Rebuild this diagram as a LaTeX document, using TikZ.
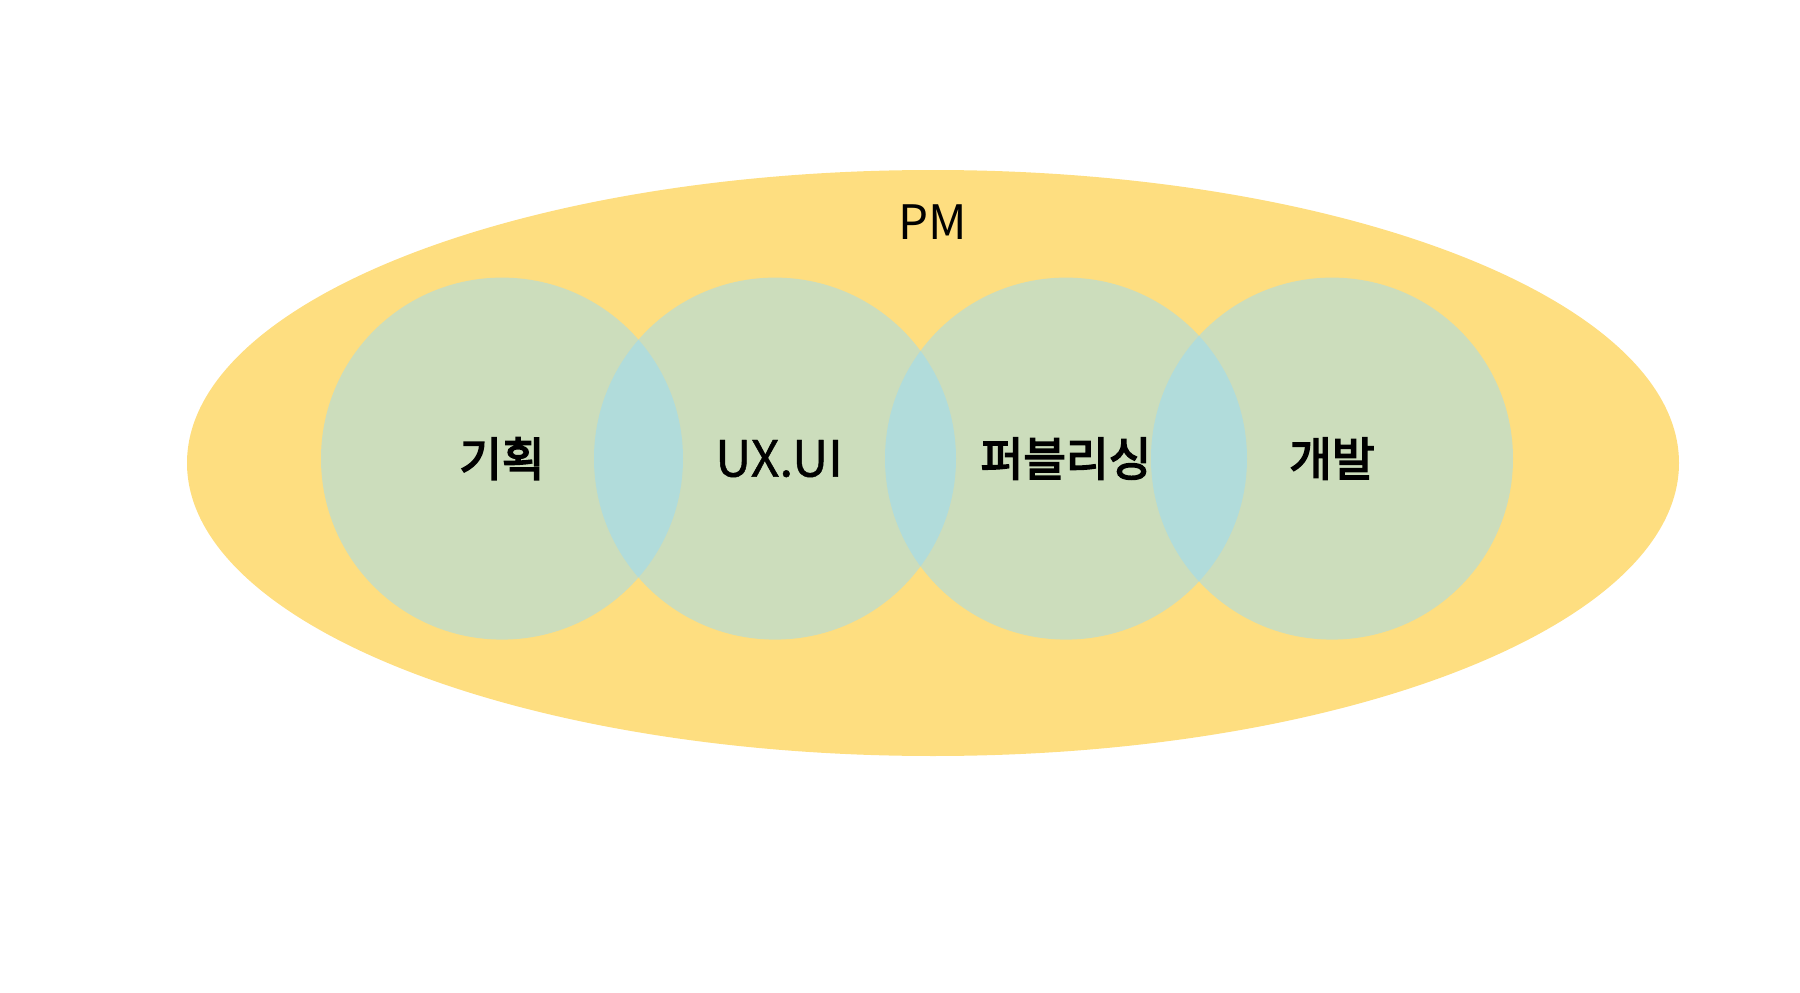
\documentclass[tikz,border=0pt]{standalone}
\usepackage{fontspec}
\setmainfont{Noto Sans CJK KR}
\newfontfamily\krsemi{Noto Sans CJK KR}[FakeBold=3.5]
\newfontfamily\latinsemi{Noto Sans CJK KR}[FakeBold=0.9]
\usetikzlibrary{shapes.geometric}
\definecolor{pmyellow}{HTML}{FEDE80}
\definecolor{rolegreen}{HTML}{CCDDBC}
\definecolor{overlapblue}{HTML}{B1DCDB}
\newcommand{\rrad}{1.81}

\begin{document}
\begin{tikzpicture}[
  pmarea/.style={ellipse,fill=pmyellow,minimum width=14.92cm,minimum height=5.86cm,inner sep=0pt},
  role/.style={circle,fill=rolegreen,minimum size=3.62cm,inner sep=0pt},
  rolelbl/.style={font=\krsemi\fontsize{13.2}{16}\selectfont},
  latinlbl/.style={font=\fontsize{13.5}{16}\selectfont}
]
\useasboundingbox (0,0) rectangle (18,9.92);

% outer PM area
\node[pmarea] (pm) at (9.33,5.29) {};
\node[latinlbl] (pmlbl) at (9.33,7.70) {PM};

% the four role circles, left to right
\node[role] (plan) at (5.02,5.334) {};
\node[role] (ux)   at (7.75,5.334) {};
\node[role] (pub)  at (10.66,5.334) {};
\node[role] (dev)  at (13.32,5.334) {};

% overlaps between neighbours
\begin{scope}
  \clip (plan) circle[radius=\rrad];
  \fill[overlapblue] (ux) circle[radius=\rrad];
\end{scope}
\begin{scope}
  \clip (ux) circle[radius=\rrad];
  \fill[overlapblue] (pub) circle[radius=\rrad];
\end{scope}
\begin{scope}
  \clip (pub) circle[radius=\rrad];
  \fill[overlapblue] (dev) circle[radius=\rrad];
\end{scope}

% labels
\node[rolelbl]  (planlbl) at (plan) {기획};
\node[font=\latinsemi\fontsize{14.2}{16}\selectfont] (uxlbl) at ([xshift=0.04cm]ux) {UX.UI};
\node[rolelbl]  (publbl)  at (pub) {퍼블리싱};
\node[rolelbl]  (devlbl)  at (dev) {개발};

\end{tikzpicture}
\end{document}
